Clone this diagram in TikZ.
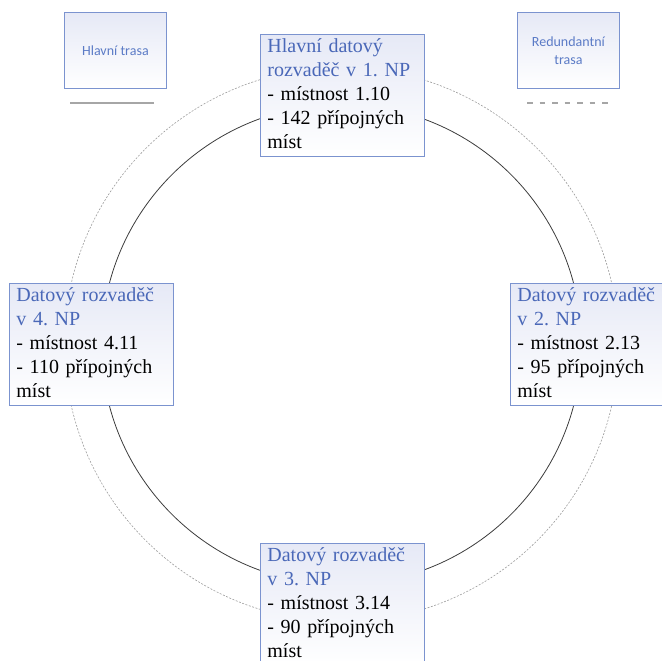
\documentclass[tikz,border=0pt]{standalone}
\usepackage{fontspec}
\setmainfont{Liberation Serif}
\newfontfamily\legendfont{Carlito}
\usetikzlibrary{positioning}
\frenchspacing
\definecolor{boxborder}{HTML}{7B93CF}
\definecolor{boxshade}{HTML}{E6E9F6}
\definecolor{titleblue}{HTML}{4A68B8}
\definecolor{legendblue}{HTML}{5B7BC6}
\definecolor{legendgray}{HTML}{A6A6A6}
\definecolor{ringdark}{HTML}{3C3C3C}
\definecolor{ringlight}{HTML}{9C9C9C}

\begin{document}
\begin{tikzpicture}[x=1pt,y=-1pt,
	rack/.style={draw=boxborder,line width=0.8pt,top color=boxshade,bottom color=white,
		anchor=north west,minimum width=164pt,minimum height=122pt,text width=150pt,inner xsep=7pt,inner ysep=1pt,
		align=left,font=\fontsize{20}{24}\selectfont,execute at begin node=\strut,execute at end node=\strut},
	legendbox/.style={draw=boxborder,line width=0.8pt,top color=boxshade,bottom color=white,
		anchor=north west,minimum width=102pt,minimum height=76pt,inner sep=0pt,align=center,
		text=legendblue,font=\legendfont\fontsize{14}{18}\selectfont},
	mainroute/.style={draw=legendgray,line width=2pt},
	backuproute/.style={mainroute,dash pattern=on 5.5pt off 7pt},
	mainring/.style={draw=ringdark,line width=0.8pt},
	backupring/.style={draw=ringlight,line width=0.6pt,dash pattern=on 2pt off 1.5pt}]
	\useasboundingbox (0,0) rectangle (662,661);
	\clip (0,0) rectangle (662,661);
	\coordinate (ring) at (341.5,344.5);
	\draw[backupring] (ring) circle[radius=277pt];
	\draw[mainring] (ring) circle[radius=240pt];
	\node[rack] (np1) at (260,34) {\textcolor{titleblue}{Hlavní datový}\\\textcolor{titleblue}{rozvaděč v 1. NP}\\- místnost 1.10\\- 142 přípojných\\míst};
	\node[rack] (np2) at (510,283) {\textcolor{titleblue}{Datový rozvaděč}\\\textcolor{titleblue}{v 2. NP}\\- místnost 2.13\\- 95 přípojných\\míst};
	\node[rack] (np3) at (260,543) {\textcolor{titleblue}{Datový rozvaděč}\\\textcolor{titleblue}{v 3. NP}\\- místnost 3.14\\- 90 přípojných\\míst};
	\node[rack] (np4) at (9,283) {\textcolor{titleblue}{Datový rozvaděč}\\\textcolor{titleblue}{v 4. NP}\\- místnost 4.11\\- 110 přípojných\\míst};
	\node[legendbox] (hlavni) at (64,12) {Hlavní trasa};
	\node[legendbox] (redund) at (517,12) {Redundantní\\trasa};
	\coordinate (hlavniA) at (70,103);
	\coordinate (hlavniB) at (154,103);
	\coordinate (redundA) at (527,103);
	\coordinate (redundB) at (609,103);
	\draw[mainroute] (hlavniA) -- (hlavniB);
	\draw[backuproute] (redundA) -- (redundB);
\end{tikzpicture}
\end{document}
